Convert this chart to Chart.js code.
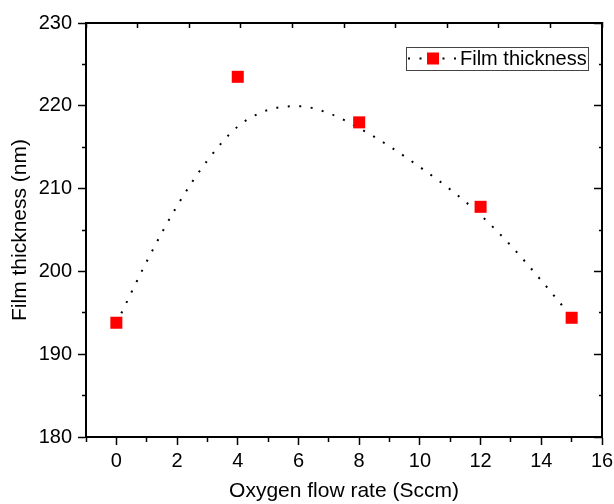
<!DOCTYPE html>
<html>
<head>
<meta charset="utf-8">
<script src="https://cdn.jsdelivr.net/npm/chart.js@4.4.0/dist/chart.umd.min.js"></script>
<style>
  html, body { margin:0; padding:0; background:#fff; }
  #wrap { width:614px; height:504px; }
</style>
</head>
<body>
<div id="wrap"><canvas id="c" width="614" height="504"></canvas></div>
<script>
// measured film thickness vs oxygen flow
const FLOW      = [0, 4, 8, 12, 15];
const THICKNESS = [193.8, 223.5, 218.0, 207.8, 194.4];

// fitted trend (dotted)
const FIT_X = [0, 1, 2, 3, 4, 5, 6, 7, 8, 9, 10, 11, 12, 13, 14, 15];
const FIT_Y = [193.7, 201.2, 207.9, 213.4, 217.5, 219.5, 219.95, 219.1, 217.3, 215.1, 212.6, 209.9, 206.8, 203.1, 198.9, 194.5];

const X_RANGE = [-1, 16];
const Y_RANGE = [180, 230];

const FONT = '"Liberation Sans", Arial, sans-serif';

// framed legend drawn inside the plot
const boxLegend = {
  id: "boxLegend",
  afterDraw(chart) {
    const { ctx, chartArea } = chart;
    const ds = chart.data.datasets[0];
    const w = 182, h = 23;
    const x = chartArea.right - 14 - w, y = chartArea.top + 24;
    const cy = y + h / 2;
    ctx.save();
    ctx.fillStyle = "#fff";
    ctx.fillRect(x, y, w, h);
    ctx.strokeStyle = "#444";
    ctx.lineWidth = 1;
    ctx.strokeRect(x + 0.5, y + 0.5, w, h);
    ctx.beginPath();
    ctx.setLineDash([2, 9.5]);
    ctx.lineWidth = 2;
    ctx.strokeStyle = "#000";
    ctx.moveTo(x + 2, cy); ctx.lineTo(x + 52, cy);
    ctx.stroke();
    ctx.setLineDash([]);
    ctx.fillStyle = ds.backgroundColor;
    ctx.fillRect(x + 21, cy - 6, 12, 12);
    ctx.fillStyle = "#000";
    ctx.font = `20px ${FONT}`;
    ctx.textBaseline = "middle";
    ctx.fillText(ds.label, x + 54, cy + 1);
    ctx.restore();
  }
};

const tickFont = { family: FONT, size: 20 };
const titleFont = { family: FONT, size: 21, lineHeight: 1 };
const axisBorder = { display: true, color: "#000", width: 2 };

new Chart(document.getElementById("c"), {
  data: {
    datasets: [
      {
        type: "scatter", label: "Film thickness",
        data: FLOW.map((x, i) => ({ x, y: THICKNESS[i] })),
        backgroundColor: "#ff0000", borderColor: "#ff0000", borderWidth: 0,
        pointStyle: "rect", pointRadius: 8.5, xAxisID: "x", yAxisID: "y",
      },
      {
        type: "line", label: "fit",
        data: FIT_X.map((x, i) => ({ x, y: FIT_Y[i] })),
        borderColor: "#000", borderWidth: 2, borderDash: [2, 9.5],
        pointRadius: 0, cubicInterpolationMode: "monotone", fill: false,
        xAxisID: "x", yAxisID: "y",
      },
    ],
  },
  options: {
    responsive: false, animation: false,
    layout: { padding: { top: 23, right: 12, left: 0, bottom: 0 } },
    plugins: { legend: { display: false }, tooltip: { enabled: false } },
    scales: {
      x: {
        type: "linear", position: "bottom", min: X_RANGE[0], max: X_RANGE[1],
        afterFit: s => { s.height = 67; s.paddingLeft = 0; s.paddingRight = 0; },
        border: axisBorder,
        grid: {
          drawOnChartArea: false, tickLength: 8, tickWidth: 1.5, tickColor: "#000",
          tickBorderDash: c => (c.tick && c.tick.value % 2 !== 0) ? [4, 100] : [],
        },
        ticks: {
          stepSize: 1, autoSkip: false, maxRotation: 0, padding: 4, color: "#000", font: tickFont,
          callback: v => v % 2 === 0 ? v : "",
        },
        title: { display: true, text: "Oxygen flow rate (Sccm)", color: "#000", font: titleFont, padding: { top: 0, bottom: 2 } },
      },
      y: {
        type: "linear", position: "left", min: Y_RANGE[0], max: Y_RANGE[1],
        afterFit: s => { s.width = 86; s.paddingTop = 0; s.paddingBottom = 0; },
        border: axisBorder,
        grid: {
          drawOnChartArea: false, tickLength: 8, tickWidth: 1.5, tickColor: "#000",
          tickBorderDash: c => (c.tick && c.tick.value % 10 !== 0) ? [0, 4, 4, 100] : [],
        },
        ticks: {
          stepSize: 5, autoSkip: false, padding: 6, color: "#000", font: tickFont,
          callback: v => v % 10 === 0 ? v : "",
        },
        title: { display: true, text: "Film thickness (nm)", color: "#000", font: titleFont, padding: { top: 10, bottom: 0 } },
      },
      yRight: {
        type: "linear", position: "right", min: Y_RANGE[0], max: Y_RANGE[1],
        afterFit: s => { s.width = 0; },
        border: axisBorder,
        grid: {
          drawOnChartArea: false, tickLength: -8, tickWidth: 1.5, tickColor: "#000",
          tickBorderDash: c => (c.tick && c.tick.value % 10 !== 0) ? [4, 100] : [],
        },
        ticks: { stepSize: 5, display: false },
      },
      xTop: {
        type: "linear", position: "top", min: 0, max: 10,
        afterFit: s => { s.height = 0; },
        border: axisBorder,
        grid: { drawOnChartArea: false, tickLength: -5, tickWidth: 1.5, tickColor: "#000" },
        ticks: { stepSize: 1, display: false },
      },
    },
  },
  plugins: [boxLegend],
});
</script>
</body>
</html>
